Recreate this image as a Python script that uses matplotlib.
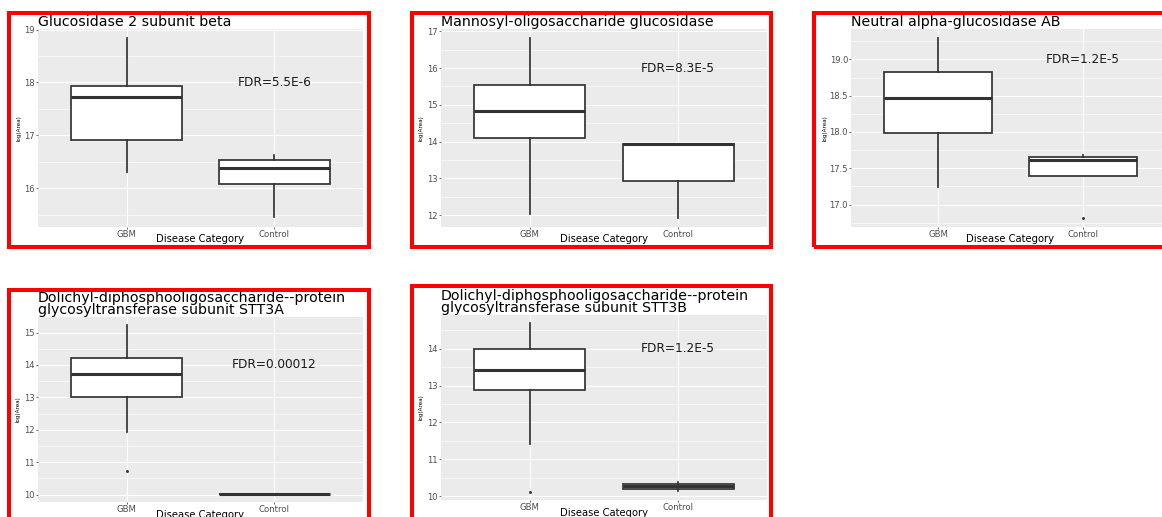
import matplotlib
matplotlib.use("Agg")
import matplotlib.pyplot as plt
from matplotlib.patches import Rectangle
from matplotlib.ticker import MultipleLocator, FormatStrFormatter
from matplotlib import font_manager

W, H, DPI = 1162, 517, 100

categories = ["GBM", "Control"]

# Box summaries per protein: [lower whisker, Q1, median, Q3, upper whisker]
gbm_glucosidase2 = [16.31, 16.92, 17.72, 17.94, 18.84]
ctl_glucosidase2 = [15.45, 16.09, 16.39, 16.53, 16.63]
gbm_mogs = [12.03, 14.11, 14.83, 15.53, 16.82]
ctl_mogs = [11.93, 12.93, 13.93, 13.93, 13.93]
gbm_ganab = [17.24, 17.98, 18.47, 18.83, 19.30]
ctl_ganab = [17.40, 17.40, 17.62, 17.65, 17.68]
gbm_stt3a = [11.92, 13.02, 13.73, 14.22, 15.23]
ctl_stt3a = [10.02, 10.02, 10.02, 10.02, 10.02]
gbm_stt3b = [11.43, 12.89, 13.41, 13.98, 14.68]
ctl_stt3b = [10.15, 10.20, 10.28, 10.33, 10.39]

# Outlying points
gbm_glucosidase2_out = []
ctl_glucosidase2_out = []
gbm_mogs_out = []
ctl_mogs_out = []
gbm_ganab_out = []
ctl_ganab_out = [16.81]
gbm_stt3a_out = [10.73]
ctl_stt3a_out = []
gbm_stt3b_out = [10.13]
ctl_stt3b_out = []

titles = [
    "Glucosidase 2 subunit beta",
    "Mannosyl-oligosaccharide glucosidase",
    "Neutral alpha-glucosidase AB",
    "Dolichyl-diphosphooligosaccharide--protein\nglycosyltransferase subunit STT3A",
    "Dolichyl-diphosphooligosaccharide--protein\nglycosyltransferase subunit STT3B",
]
fdr_labels = ["FDR=5.5E-6", "FDR=8.3E-5", "FDR=1.2E-5", "FDR=0.00012", "FDR=1.2E-5"]

EDGE = "#333333"
TICK_GREY = "#4D4D4D"
PANEL_BG = "#EBEBEB"

installed = {f.name for f in font_manager.fontManager.ttflist}
if "Liberation Sans Narrow" in installed:
    ylab_family, ylab_size = "Liberation Sans Narrow", 5.0
else:
    ylab_family, ylab_size = "DejaVu Sans", 4.1

# layout in pixels: axes box (left, top, right, bottom), frame (left, top, right, bottom)
panels = [
    dict(data=(gbm_glucosidase2, ctl_glucosidase2, gbm_glucosidase2_out, ctl_glucosidase2_out),
         axbox=(38, 29, 363, 227), frame=(8.5, 13.5, 369, 247),
         ylim=(15.27, 19.01), major=1.0, fdr_y=18.0, ylab_dx=-19),
    dict(data=(gbm_mogs, ctl_mogs, gbm_mogs_out, ctl_mogs_out),
         axbox=(441, 29, 767, 227), frame=(411.5, 13.5, 771, 247),
         ylim=(11.68, 17.06), major=1.0, fdr_y=16.0, ylab_dx=-20),
    dict(data=(gbm_ganab, ctl_ganab, gbm_ganab_out, ctl_ganab_out),
         axbox=(851, 29, 1170, 227), frame=(814, 13.5, 1200, 247),
         ylim=(16.69, 19.42), major=0.5, fdr_y=19.0, ylab_dx=-26),
    dict(data=(gbm_stt3a, ctl_stt3a, gbm_stt3a_out, ctl_stt3a_out),
         axbox=(38, 317, 363, 502), frame=(8.5, 289.5, 369, 560),
         ylim=(9.77, 15.48), major=1.0, fdr_y=14.0, ylab_dx=-20),
    dict(data=(gbm_stt3b, ctl_stt3b, gbm_stt3b_out, ctl_stt3b_out),
         axbox=(441, 315, 767, 500), frame=(411.5, 286, 771, 560),
         ylim=(9.90, 14.91), major=1.0, fdr_y=14.0, ylab_dx=-20),
]

fig = plt.figure(figsize=(W / DPI, H / DPI), dpi=DPI)
fig.patch.set_facecolor("white")

for spec, title, fdr in zip(panels, titles, fdr_labels):
    l, t, r, b = spec["axbox"]
    ax_w, ax_h = r - l, b - t
    ax = fig.add_axes([l / W, 1 - b / H, ax_w / W, ax_h / H])
    ax.set_facecolor(PANEL_BG)
    ax.set_axisbelow(True)
    for s in ax.spines.values():
        s.set_visible(False)

    gbm, ctl, gbm_out, ctl_out = spec["data"]
    stats = []
    for label, s, out in zip(categories, (gbm, ctl), (gbm_out, ctl_out)):
        stats.append(dict(label=label, whislo=s[0], q1=s[1], med=s[2],
                          q3=s[3], whishi=s[4], fliers=out))
    ax.bxp(stats, positions=[1, 2], widths=0.75, patch_artist=True,
           showcaps=False,
           boxprops=dict(facecolor="white", edgecolor=EDGE, linewidth=1.25),
           medianprops=dict(color=EDGE, linewidth=2.2, solid_capstyle="butt"),
           whiskerprops=dict(color=EDGE, linewidth=1.25),
           flierprops=dict(marker="o", markersize=1.1, markerfacecolor=EDGE,
                           markeredgecolor=EDGE, linestyle="none"))

    ax.set_xlim(0.4, 2.6)
    ax.set_ylim(*spec["ylim"])
    ax.yaxis.set_major_locator(MultipleLocator(spec["major"]))
    ax.yaxis.set_minor_locator(MultipleLocator(spec["major"] / 2))
    ax.grid(True, which="major", color="white", linewidth=0.8)
    ax.grid(True, which="minor", axis="y", color="white", linewidth=0.4)
    ax.tick_params(which="minor", length=0)
    ax.tick_params(axis="y", which="major", length=1.5, width=0.5, color=EDGE,
                   pad=0.6, labelsize=6, labelcolor=TICK_GREY)
    ax.tick_params(axis="x", which="major", length=1.5, width=0.5, color=EDGE,
                   pad=0.8, labelsize=6.1, labelcolor=TICK_GREY)
    if spec["major"] < 1:
        ax.yaxis.set_major_formatter(FormatStrFormatter("%.1f"))

    ax.set_title(title, loc="left", fontsize=10.2, pad=2, linespacing=0.85,
                 color="black")

    ax.set_xlabel("Disease Category", fontsize=7.2, color="black")
    ax.xaxis.label.set_va("center")
    ax.xaxis.set_label_coords(0.5, -12.5 / ax_h)

    ax.set_ylabel("log(Area)", fontsize=ylab_size, family=ylab_family, color="black")
    ax.yaxis.label.set_va("center")
    ax.yaxis.set_label_coords(spec["ylab_dx"] / ax_w, 0.5)

    ax.text(2, spec["fdr_y"], fdr, ha="center", va="center", fontsize=8.7,
            color="#1A1A1A")

    fl, ft, fr, fb = spec["frame"]
    fig.add_artist(Rectangle((fl / W, 1 - fb / H), (fr - fl) / W, (fb - ft) / H,
                             transform=fig.transFigure, fill=False,
                             edgecolor="#FF0000", linewidth=2.9))

fig.savefig("out.png", dpi=DPI, facecolor="white")
